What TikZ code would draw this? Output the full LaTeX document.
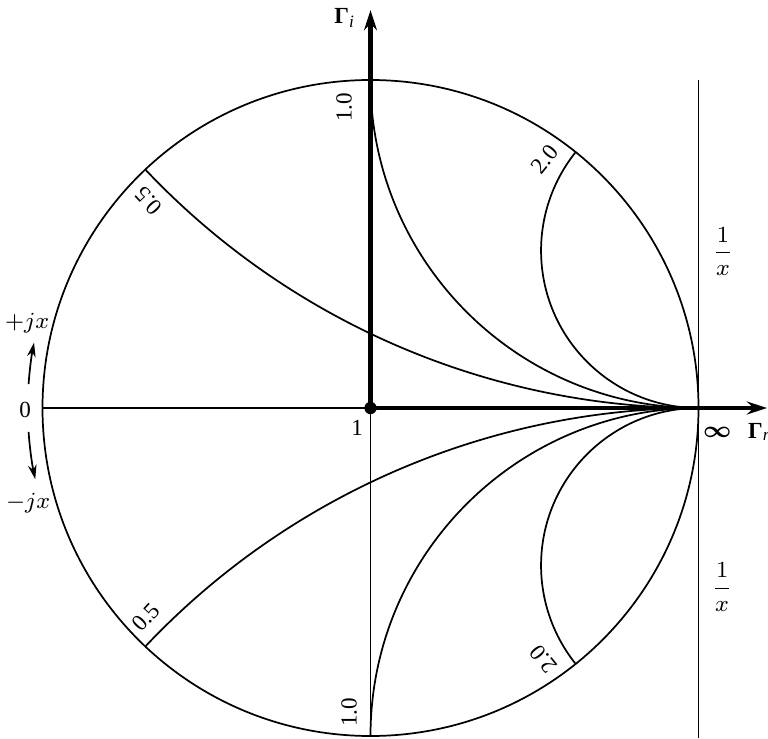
\documentclass[tikz,border=0pt]{standalone}
\usepackage{amsmath}
\usepackage{fontspec}
\setmainfont{Liberation Serif}
\usetikzlibrary{arrows.meta}

\begin{document}
\begin{tikzpicture}[x=4cm, y=4cm,
    chart/.style={line width=0.6pt},
    axis/.style={line width=1.5pt},
    arrow/.style={-{Stealth[length=7pt, width=4.5pt]}, line width=1.5pt},
    turn/.style={-{Stealth[length=5pt, width=3pt]}, line width=0.6pt},
    dot/.style={circle, fill, inner sep=0pt, minimum size=4.3pt},
    lbl/.style={font=\fontsize{8}{9}\selectfont, inner sep=1pt}
]
\useasboundingbox (-1.1296,-1.0061) rectangle (1.2119,1.2439);
\draw[chart] (0,0) circle (1);
\foreach \c in {2.32, 1, 0.48} {
    \draw[chart] (1,0) arc[start angle=270, end angle={180+atan((\c*\c-1)/(2*\c))}, radius=\c];
    \draw[chart] (1,0) arc[start angle=90, end angle={180-atan((\c*\c-1)/(2*\c))}, radius=\c];
}
\node[dot] (one) at (0,0) {};
\coordinate (zero) at (-1,0);
\coordinate (low) at (0,-1);
\coordinate (xtip) at (1.209,0);
\coordinate (ytip) at (0,1.213);
\coordinate (ltop) at (1,1);
\coordinate (lbot) at (1,-1.0061);
\draw[chart] (zero) -- (one.center);
\draw[chart] (one.center) -- (low);
\draw[arrow] (one.center) -- (xtip);
\draw[arrow] (one.center) -- (ytip);
\draw[chart] (ltop) -- (lbot);
\node[lbl] (gi) at (-0.078,1.189) {{\bfseries Γ}\textsubscript{\itshape i}};
\node[lbl, anchor=west, inner sep=0.5pt] (gr) at (1.145,-0.073) {{\bfseries Γ}\textsubscript{\itshape r}};
\node[lbl] (inf) at (1.057,-0.073) {$\boldsymbol{\infty}$};
\node[lbl] (cen) at (-0.041,-0.061) {1};
\node[lbl] (zl) at (-1.053,-0.006) {0};
\node[lbl] (pj) at (-1.047,0.259) {$+jx$};
\node[lbl] (mj) at (-1.044,-0.290) {$-jx$};
\node[lbl] (fa) at (1.075,0.476) {$\dfrac{1}{x}$};
\node[lbl] (fb) at (1.072,-0.546) {$\dfrac{1}{x}$};
\draw[turn] (176:1.045) arc[start angle=176, end angle=169, radius=1.045];
\draw[turn] (184:1.045) arc[start angle=184, end angle=192, radius=1.045];
\node[lbl, rotate=133] (xa) at (137:0.925) {0.5};
\node[lbl, rotate=90] (xb) at (95:0.92) {1.0};
\node[lbl, rotate=51] (xc) at (55:0.925) {2.0};
\node[lbl, rotate=47] (xd) at (223:0.935) {0.5};
\node[lbl, rotate=90] (xe) at (266:0.93) {1.0};
\node[lbl, rotate=129] (xf) at (304.5:0.93) {2.0};
\end{tikzpicture}
\end{document}
